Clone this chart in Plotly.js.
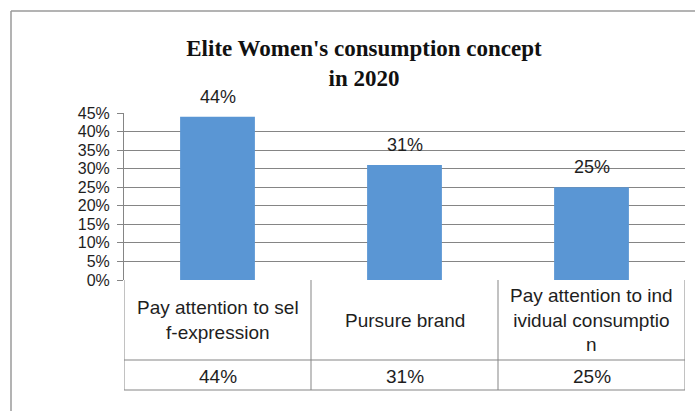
<!DOCTYPE html>
<html><head><meta charset="utf-8">
<script src="https://cdn.plot.ly/plotly-3.0.1.min.js"></script>
<style>body{margin:0;background:#fff}#chart{width:695px;height:411px}</style>
</head><body><div id="chart"></div>
<script>
// ---- data ----
const categories = ["Pay attention to self-expression", "Pursure brand", "Pay attention to individual consumption"];
const categoryLabels = ["Pay attention to sel<br>f-expression", "Pursure brand", "Pay attention to ind<br>ividual consumptio<br>n"];
const values = [44, 31, 25];
const valueLabels = ["44%", "31%", "25%"];
const yTickValues = [0, 5, 10, 15, 20, 25, 30, 35, 40, 45];
const titleText = "Elite Women's consumption concept<br>in 2020";

// ---- layout geometry (pixels) ----
const W = 695, H = 411;
const M = {l: 124, r: 10, t: 113, b: 131};
const plotW = W - M.l - M.r, plotH = H - M.t - M.b;
const px = x => (x - M.l) / plotW;           // pixel x -> paper
const py = y => (H - M.b - y) / plotH;        // pixel y -> paper

const sans = "Liberation Sans, Arial, sans-serif";
const gridCol = "#858585";
const textCol = "#1e1e1e";
const n = categories.length;

const shapes = [];
// table vertical lines
for (let i = 0; i <= n; i++) {
  shapes.push({type: "line", xref: "x", yref: "paper", x0: i - 0.5, x1: i - 0.5, y0: 0, y1: py(390),
    line: {color: gridCol, width: 1}});
}
// table horizontal lines
[360, 390].forEach(yp => shapes.push({type: "line", xref: "x", yref: "paper", x0: -0.5, x1: n - 0.5,
  y0: py(yp), y1: py(yp), line: {color: gridCol, width: 1}}));
// outer chart frame (top + left)
shapes.push({type: "line", xref: "paper", yref: "paper", x0: px(11), x1: px(695), y0: py(11), y1: py(11),
  line: {color: "#9a9a9a", width: 1.5}});
shapes.push({type: "line", xref: "paper", yref: "paper", x0: px(11), x1: px(11), y0: py(11), y1: py(411),
  line: {color: "#9a9a9a", width: 1.5}});

const annotations = [];
categories.forEach((c, i) => {
  // data labels above bars
  annotations.push({x: c, y: values[i], xref: "x", yref: "y", text: valueLabels[i], showarrow: false,
    yanchor: "bottom", yshift: 8, font: {family: sans, size: 18, color: textCol}});
  // table row 1: category names
  annotations.push({x: c, y: py(320), xref: "x", yref: "paper", text: categoryLabels[i], showarrow: false,
    yanchor: "middle", align: "center", font: {family: sans, size: 19, color: textCol}});
  // table row 2: values
  annotations.push({x: c, y: py(376), xref: "x", yref: "paper", text: valueLabels[i], showarrow: false,
    yanchor: "middle", font: {family: sans, size: 19, color: textCol}});
});

const trace = {
  type: "bar", x: categories, y: values,
  marker: {color: "#5a96d4"}, hoverinfo: "none"
};

const layout = {
  width: W, height: H,
  margin: M,
  paper_bgcolor: "#fff", plot_bgcolor: "#fff",
  showlegend: false,
  bargap: 0.6,
  title: {text: titleText, x: 364 / W, xref: "container", xanchor: "center",
    y: 1 - 56 / H, yref: "container", yanchor: "middle",
    font: {family: "Liberation Serif, Times New Roman, serif", size: 23, color: "#111", weight: "bold"}},
  xaxis: {type: "category", range: [-0.5, n - 0.5], showticklabels: false, ticks: "",
    showline: false, showgrid: false, zeroline: false, fixedrange: true},
  yaxis: {range: [0, 45], tickvals: yTickValues, ticktext: yTickValues.map(v => v + "%"),
    showgrid: true, gridcolor: gridCol, gridwidth: 1, zeroline: false,
    showline: true, linecolor: gridCol, linewidth: 1,
    ticks: "outside", ticklen: 6, tickcolor: gridCol, ticklabelstandoff: 4,
    tickfont: {family: sans, size: 16, color: textCol}, fixedrange: true},
  shapes: shapes,
  annotations: annotations
};

Plotly.newPlot("chart", [trace], layout, {displayModeBar: false, staticPlot: true});
</script>
</body></html>
